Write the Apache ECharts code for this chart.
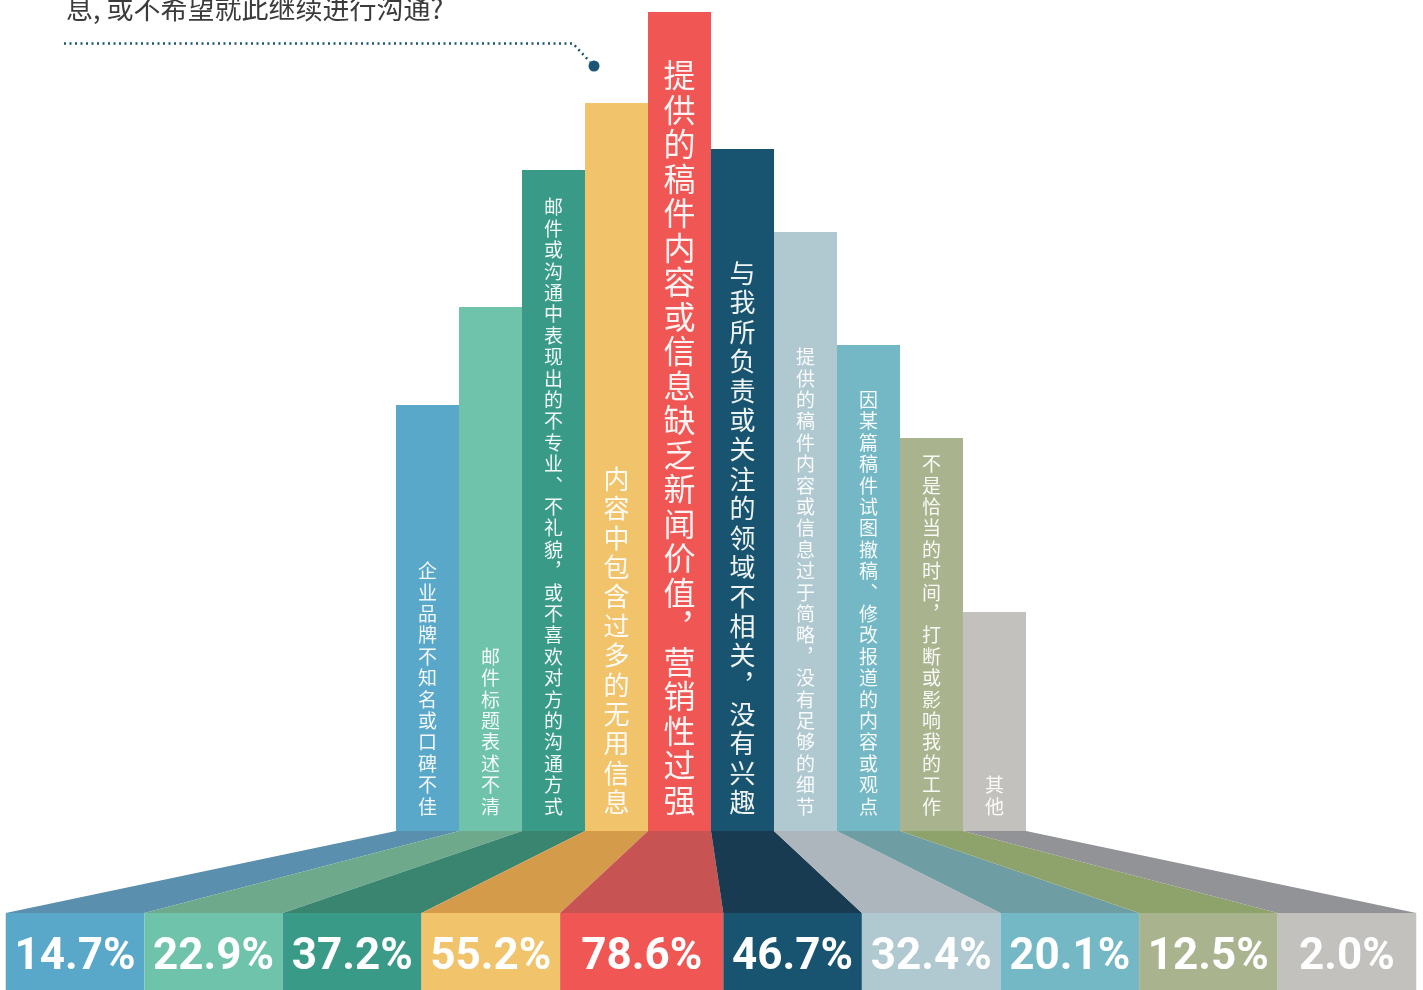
<!DOCTYPE html>
<html>
<head>
<meta charset="utf-8">
<style>
  html, body { margin: 0; padding: 0; background: #fff; }
  #main { width: 1423px; height: 990px; }
</style>
<script src="https://cdn.jsdelivr.net/npm/echarts@6/dist/echarts.min.js"></script>
</head>
<body>
<div id="main"></div>
<script>
// 原因分类
var categories = [
  "企业品牌不知名或口碑不佳",
  "邮件标题表述不清",
  "邮件或沟通中表现出的不专业、不礼貌，或不喜欢对方的沟通方式",
  "内容中包含过多的无用信息",
  "提供的稿件内容或信息缺乏新闻价值，营销性过强",
  "与我所负责或关注的领域不相关，没有兴趣",
  "提供的稿件内容或信息过于简略，没有足够的细节",
  "因某篇稿件试图撤稿、修改报道的内容或观点",
  "不是恰当的时间，打断或影响我的工作",
  "其他"
];
// 百分比
var percents = [14.7, 22.9, 37.2, 55.2, 78.6, 46.7, 32.4, 20.1, 12.5, 2.0];
// 柱子显示高度（图上读出）
var barHeights = [426, 524, 661, 728, 819, 682, 599, 486, 393, 219];

// 颜色
var barColors = ["#5aa8c9", "#6fc3ab", "#3a9a88", "#f1c36b", "#f05654",
                 "#18546f", "#b0c8d0", "#74b8c5", "#a9b48f", "#c2c1bd"];
var baseColors = ["#5a8fae", "#6ea98b", "#3a8570", "#d49b4a", "#c75352",
                  "#183b51", "#adb6bc", "#6f9da4", "#8ea36b", "#929397"];

var BOX_TOP = -82, BOX_BOTTOM = -159;
var maxVal = Math.max.apply(null, percents);
var sorted = percents.slice().sort(function (a, b) { return b - a; });

function labelStyle(v) {
  var rank = sorted.indexOf(v);
  if (rank === 0) return { fontSize: 32, lineHeight: 34.5 };
  if (rank <= 2) return { fontSize: 26, lineHeight: 29.4 };
  return { fontSize: 19, lineHeight: 21.4 };
}

// 竖排标点
var vertPunct = { "，": "\uFE10", "、": "\uFE11" };
function vertical(s) {
  return s.split("").map(function (ch) { return vertPunct[ch] || ch; }).join("\n");
}

var barData = barHeights.map(function (h, i) {
  return {
    value: h,
    itemStyle: { color: barColors[i] },
    label: labelStyle(percents[i])
  };
});

function renderBase(params, api) {
  var i = params.dataIndex;
  var n = categories.length;
  var band = api.size([1, 0])[0];
  var c = api.coord([i, 0]);
  var yTop = c[1];
  var yBox = api.coord([i, BOX_TOP])[1];
  var yEnd = api.coord([i, BOX_BOTTOM])[1];
  var mid = (api.coord([0, 0])[0] + api.coord([n - 1, 0])[0]) / 2;
  var spans = percents.map(function (v) { return v === maxVal ? 2.59 : 2.2; });
  var total = spans.reduce(function (a, b) { return a + b; }, 0) * band;
  var x0 = mid - total / 2;
  for (var k = 0; k < i; k++) x0 += spans[k] * band;
  var x1 = x0 + spans[i] * band;
  return {
    type: "group",
    children: [
      {
        type: "polygon",
        shape: { points: [[c[0] - band / 2, yTop], [c[0] + band / 2, yTop], [x1, yBox], [x0, yBox]] },
        style: { fill: baseColors[i] }
      },
      {
        type: "rect",
        shape: { x: x0, y: yBox, width: x1 - x0, height: yEnd - yBox },
        style: { fill: barColors[i] }
      },
      {
        type: "text",
        style: {
          text: api.value(1).toFixed(1) + "%",
          x: (x0 + x1) / 2,
          y: (yBox + yEnd) / 2 + 6,
          align: "center",
          verticalAlign: "middle",
          fill: "#fff",
          font: 'bold 44px Roboto, "Liberation Sans", sans-serif'
        }
      }
    ]
  };
}

var myChart = echarts.init(document.getElementById("main"));
var option = {
  backgroundColor: "#fff",
  animation: false,
  grid: { left: 396, right: 397, top: 12, bottom: 0 },
  xAxis: {
    type: "category",
    data: categories,
    show: false
  },
  yAxis: {
    type: "value",
    min: BOX_BOTTOM,
    max: 819,
    show: false
  },
  graphic: [
    {
      type: "text",
      left: 66,
      top: -5,
      style: {
        text: "息, 或不希望就此继续进行沟通?",
        fill: "#3b3b3b",
        font: '27px "Noto Sans CJK SC", sans-serif'
      }
    },
    {
      type: "polyline",
      shape: { points: [[64, 43.5], [573, 43.5], [590, 62]] },
      style: { stroke: "#1b5573", lineWidth: 2.5, lineDash: [2, 3.5], fill: null }
    },
    {
      type: "circle",
      shape: { cx: 594, cy: 66, r: 5.5 },
      style: { fill: "#1b5573" }
    }
  ],
  series: [
    {
      type: "custom",
      clip: false,
      renderItem: renderBase,
      encode: { x: 0, y: 1 },
      data: percents.map(function (v, i) { return [i, v]; }),
      z: 1
    },
    {
      type: "bar",
      barWidth: "100%",
      data: barData,
      z: 2,
      label: {
        show: true,
        position: "insideBottom",
        distance: 14,
        color: "rgba(255,255,255,0.93)",
        fontFamily: "Noto Sans CJK SC",
        formatter: function (p) { return vertical(p.name); }
      }
    }
  ]
};
myChart.setOption(option);
</script>
</body>
</html>
